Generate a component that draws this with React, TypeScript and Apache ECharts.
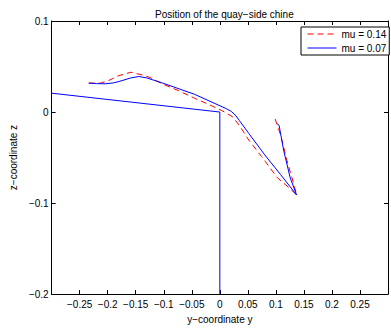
import React, { useEffect, useRef } from "react";
import * as echarts from "echarts";

// mu = 0.14 trajectory of the chine: [y, z]
const mu014: [number, number][] = [
  [-0.2338, 0.0318], [-0.2128, 0.0318], [-0.1986, 0.0345], [-0.1816, 0.0397],
  [-0.1587, 0.0437], [-0.1389, 0.0408], [-0.1246, 0.0380], [-0.1019, 0.0307],
  [-0.0734, 0.0234], [-0.0451, 0.0152], [-0.0222, 0.0090], [0.0034, 0.0017],
  [0.0232, -0.0054], [0.0346, -0.0145], [0.0517, -0.0308], [0.0744, -0.0488],
  [0.1029, -0.0723], [0.1200, -0.0813], [0.1370, -0.0911], [0.1314, -0.0778],
  [0.1200, -0.0539], [0.1085, -0.0254], [0.0973, -0.0051],
];

// mu = 0.07 trajectory of the chine: [y, z]
const mu007: [number, number][] = [
  [-0.2338, 0.0318], [-0.2200, 0.0312], [-0.2043, 0.0310], [-0.1900, 0.0320],
  [-0.1816, 0.0332], [-0.1587, 0.0375], [-0.1445, 0.0390], [-0.1304, 0.0375],
  [-0.1019, 0.0318], [-0.0451, 0.0195], [0.0119, 0.0036], [0.0205, 0.0007],
  [0.0290, -0.0043], [0.0346, -0.0091], [0.0517, -0.0235], [0.0802, -0.0471],
  [0.1085, -0.0688], [0.1370, -0.0911], [0.1256, -0.0723], [0.1143, -0.0434],
  [0.1058, -0.0149], [0.1029, -0.0127],
];

// quay outline: [y, z]
const quay: [number, number][] = [
  [-0.3, 0.0207], [0, 0], [0, -0.2],
];

const seriesNames = ["mu = 0.14", "mu = 0.07"];
const xTicks = { min: -0.3, max: 0.3, step: 0.05 };
const yTicks = { min: -0.2, max: 0.1, step: 0.1 };

const FONT = "'Liberation Sans', Arial, Helvetica, sans-serif";

function fmt(v: number): string {
  const r = Math.round(v * 1000) / 1000;
  if (Math.abs(r) < 1e-9) return "0";
  return String(r).replace("-", "\u2212");
}

export default function App() {
  const ref = useRef<HTMLDivElement>(null);
  useEffect(() => {
    if (!ref.current) return;
    const chart = echarts.init(ref.current, undefined, { renderer: "svg" });
    const axisCommon = {
      type: "value" as const,
      axisLine: { show: true, onZero: false, lineStyle: { color: "#000", width: 1 } },
      axisTick: { show: true, inside: true, length: 4, lineStyle: { color: "#000", width: 1 } },
      splitLine: { show: false },
    };
    chart.setOption({
      animation: false,
      backgroundColor: "#fff",
      title: {
        text: "Position of the quay\u2212side chine",
        left: 150,
        top: 4,
        textStyle: { fontSize: 10, fontWeight: "normal", color: "#000", fontFamily: FONT },
      },
      legend: {
        data: seriesNames,
        orient: "vertical",
        left: 301,
        top: 27,
        itemWidth: 29,
        itemHeight: 10,
        itemGap: 4,
        padding: [2, 3, 2, 6],
        borderColor: "#000",
        borderWidth: 1,
        backgroundColor: "#fff",
        itemStyle: { opacity: 0 },
        lineStyle: { width: 1 },
        textStyle: { fontSize: 10, color: "#000", fontFamily: FONT },
      },
      grid: { left: 44, top: 21, right: -4.6, bottom: 30.7, containLabel: false },
      xAxis: [
        {
          ...axisCommon,
          position: "bottom",
          min: xTicks.min,
          max: xTicks.max,
          interval: xTicks.step,
          name: "y\u2212coordinate y",
          nameLocation: "middle",
          nameGap: 14,
          nameTextStyle: { fontSize: 10, color: "#000", fontFamily: FONT },
          axisLabel: {
            fontSize: 10,
            color: "#000",
            fontFamily: FONT,
            margin: 5,
            formatter: (v: number) => (Math.abs(Math.abs(v) - 0.3) < 1e-6 ? "" : fmt(v)),
          },
        },
        {
          ...axisCommon,
          position: "top",
          min: xTicks.min,
          max: xTicks.max,
          interval: xTicks.step,
          axisLabel: { show: false },
        },
      ],
      yAxis: [
        {
          ...axisCommon,
          position: "left",
          min: yTicks.min,
          max: yTicks.max,
          interval: yTicks.step,
          name: "z\u2212coordinate z",
          nameLocation: "middle",
          nameGap: 26,
          nameTextStyle: { fontSize: 10, color: "#000", fontFamily: FONT },
          axisLabel: {
            fontSize: 10,
            color: "#000",
            fontFamily: FONT,
            margin: 3,
            formatter: (v: number) => fmt(v),
          },
        },
        {
          ...axisCommon,
          position: "right",
          min: yTicks.min,
          max: yTicks.max,
          interval: yTicks.step,
          axisLabel: { show: false },
        },
      ],
      series: [
        {
          name: seriesNames[0],
          type: "line",
          data: mu014,
          symbol: "none",
          showSymbol: false,
          z: 3,
          lineStyle: { color: "#ff0000", width: 1, type: [6, 4] },
          itemStyle: { color: "#ff0000" },
        },
        {
          name: seriesNames[1],
          type: "line",
          data: mu007,
          symbol: "none",
          showSymbol: false,
          z: 4,
          lineStyle: { color: "#0000ff", width: 1 },
          itemStyle: { color: "#0000ff" },
        },
        {
          name: "quay",
          type: "line",
          data: quay,
          symbol: "none",
          showSymbol: false,
          z: 2,
          lineStyle: { color: "#0000ff", width: 1 },
          itemStyle: { color: "#0000ff" },
        },
      ],
    });
    return () => chart.dispose();
  }, []);
  return (
    <div
      ref={ref}
      style={{ position: "fixed", left: 0, top: 0, width: 391, height: 329, background: "#fff" }}
    />
  );
}
